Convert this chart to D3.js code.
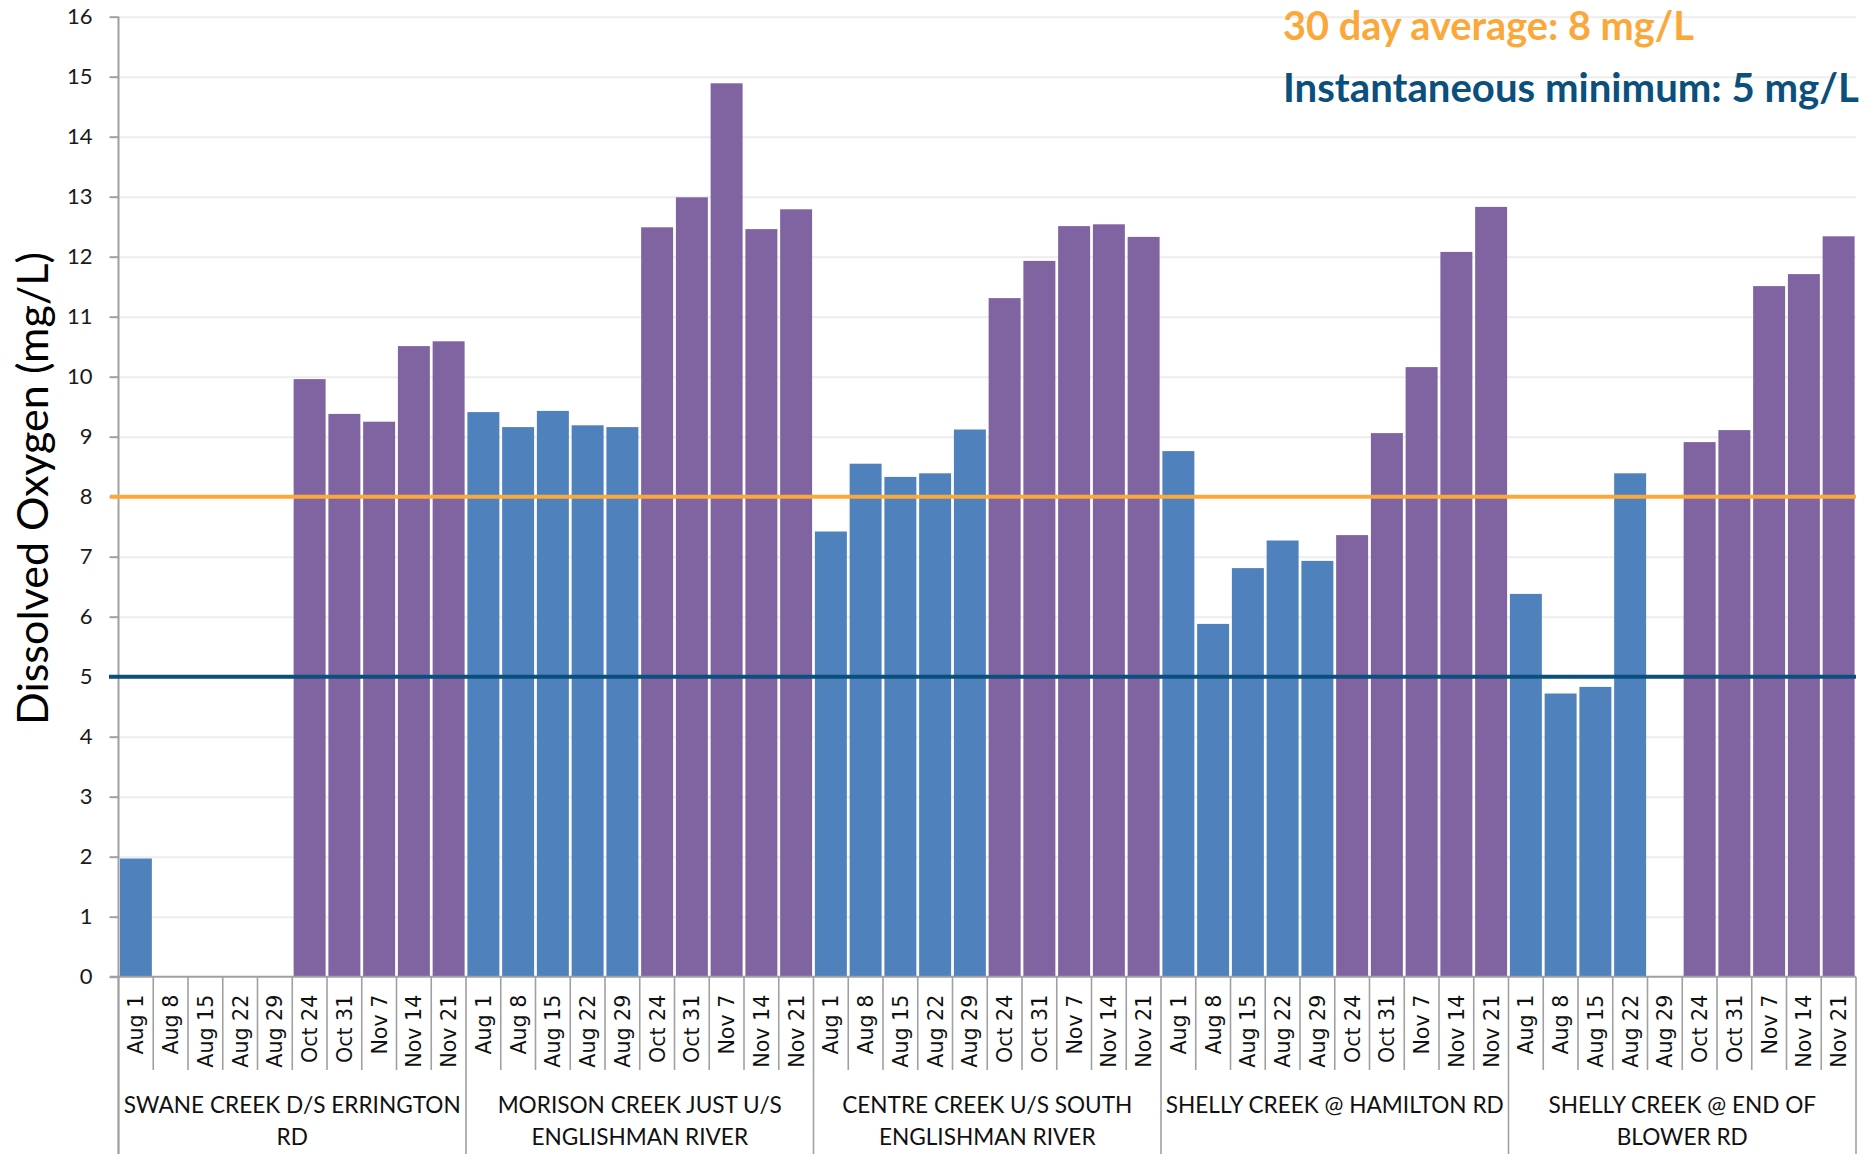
<!DOCTYPE html>
<html>
<head>
<meta charset="utf-8">
<script src="https://cdn.jsdelivr.net/npm/d3@7"></script>
<style>
  html, body { margin: 0; padding: 0; background: #ffffff; }
  svg { display: block; }
</style>
</head>
<body>
<svg id="chart" width="1864" height="1154"></svg>
<script>
// ---------------- DATA ----------------
const sites = [
  "SWANE CREEK D/S ERRINGTON RD",
  "MORISON CREEK JUST U/S ENGLISHMAN RIVER",
  "CENTRE CREEK U/S SOUTH ENGLISHMAN RIVER",
  "SHELLY CREEK @ HAMILTON RD",
  "SHELLY CREEK @ END OF BLOWER RD"
];
const siteLabelLines = [
  ["SWANE CREEK D/S ERRINGTON", "RD"],
  ["MORISON CREEK JUST U/S", "ENGLISHMAN RIVER"],
  ["CENTRE CREEK U/S SOUTH", "ENGLISHMAN RIVER"],
  ["SHELLY CREEK @ HAMILTON RD"],
  ["SHELLY CREEK @ END OF", "BLOWER RD"]
];
const dates = ["Aug 1", "Aug 8", "Aug 15", "Aug 22", "Aug 29", "Oct 24", "Oct 31", "Nov 7", "Nov 14", "Nov 21"];
const swaneValues    = [1.97, null, null, null, null, 9.96, 9.38, 9.25, 10.51, 10.59];
const morisonValues  = [9.41, 9.16, 9.43, 9.19, 9.16, 12.49, 12.99, 14.89, 12.46, 12.79];
const centreValues   = [7.42, 8.55, 8.33, 8.39, 9.12, 11.31, 11.93, 12.51, 12.54, 12.33];
const hamiltonValues = [8.76, 5.88, 6.81, 7.27, 6.93, 7.36, 9.06, 10.16, 12.08, 12.83];
const blowerValues   = [6.38, 4.72, 4.83, 8.39, null, 8.91, 9.11, 11.51, 11.71, 12.34];
const siteValues = [swaneValues, morisonValues, centreValues, hamiltonValues, blowerValues];
const yTicks = [0, 1, 2, 3, 4, 5, 6, 7, 8, 9, 10, 11, 12, 13, 14, 15, 16];
const thirtyDayAverage = 8;
const instantaneousMinimum = 5;
const legendTexts = ["30 day average: 8 mg/L", "Instantaneous minimum: 5 mg/L"];
const yTitle = "Dissolved Oxygen (mg/L)";

// ---------------- LAYOUT ----------------
const W = 1864, H = 1154;
const mLeft = 118.5, mRight = 1856, mTop = 16.7, mBottom = 976.7;
const colors = { summer: "#4F81BD", fall: "#8064A2", avg: "#FBA83B", min: "#0B4F7D", axis: "#A0A0A0", grid: "#EDEDED" };
const font = "Lato, 'Open Sans', sans-serif";

function fit(sel, target) {
  const base = parseFloat(sel.attr("font-size"));
  const w = sel.node().getComputedTextLength();
  const fsz = base * target / w;
  sel.attr("font-size", fsz);
  return fsz;
}

const rows = [];
sites.forEach((s, si) => dates.forEach((d, di) => rows.push({ key: si + "|" + di, site: si, date: d, value: siteValues[si][di] })));

const svg = d3.select("#chart");
svg.append("rect").attr("width", W).attr("height", H).attr("fill", "#fff");

const x = d3.scaleBand().domain(rows.map(r => r.key)).range([mLeft, mRight]).paddingInner(0.08).paddingOuter(0.04);
const y = d3.scaleLinear().domain([0, 16]).range([mBottom, mTop]);

// gridlines
const grid = svg.append("g").attr("transform", `translate(${mLeft},0)`)
  .call(d3.axisLeft(y).tickValues(yTicks.filter(t => t > 0)).tickSize(-(mRight - mLeft)).tickFormat(""));
grid.select(".domain").remove();
grid.selectAll("line").attr("stroke", colors.grid).attr("stroke-width", 2);

// bars
svg.append("g").selectAll("rect")
  .data(rows.filter(r => r.value != null))
  .join("rect")
  .attr("x", r => x(r.key))
  .attr("width", x.bandwidth())
  .attr("y", r => y(r.value))
  .attr("height", r => y(0) - y(r.value))
  .attr("fill", r => r.date.startsWith("Aug") ? colors.summer : colors.fall);

// y axis
const yAxis = svg.append("g").attr("transform", `translate(${mLeft},0)`)
  .call(d3.axisLeft(y).tickValues(yTicks).tickSize(9).tickPadding(17).tickFormat(d3.format("d")));
yAxis.select(".domain").remove();
yAxis.selectAll("line").attr("stroke", colors.axis).attr("stroke-width", 2);
yAxis.selectAll("text").attr("font-family", font).attr("font-size", 22).attr("fill", "#1a1a1a");
svg.append("line").attr("x1", mLeft).attr("x2", mLeft).attr("y1", mTop).attr("y2", H)
  .attr("stroke", colors.axis).attr("stroke-width", 2);

// x axis
const xAxis = svg.append("g").attr("transform", `translate(0,${mBottom})`)
  .call(d3.axisBottom(x).tickSize(0).tickFormat(k => dates[+k.split("|")[1]]));
xAxis.select(".domain").remove();
const xLabels = xAxis.selectAll("text")
  .attr("transform", "rotate(-90)")
  .attr("text-anchor", "end")
  .attr("x", -18).attr("y", 0).attr("dy", "0.36em")
  .attr("font-family", "'DejaVu Sans', Verdana, sans-serif")
  .attr("font-size", 20)
  .attr("fill", "#111");
// size so that "Aug 15" spans ~73px as in the reference
const refLabel = xLabels.filter(function () { return this.textContent === "Aug 15"; }).filter((d, i) => i === 0);
const xfs = fit(refLabel, 73);
xLabels.attr("font-size", xfs);
svg.append("line").attr("x1", 110).attr("x2", mRight).attr("y1", mBottom).attr("y2", mBottom)
  .attr("stroke", colors.axis).attr("stroke-width", 2);

// category separators
const half = x.step() * x.paddingInner() / 2;
const keys = x.domain();
const seps = keys.map((k, i) => ({ i, pos: x(k) - half }));
seps.push({ i: keys.length, pos: x(keys[keys.length - 1]) + x.bandwidth() + half });
svg.append("g").selectAll("line").data(seps).join("line")
  .attr("x1", d => d.pos).attr("x2", d => d.pos)
  .attr("y1", mBottom)
  .attr("y2", d => d.i % dates.length === 0 ? H : 1070)
  .attr("stroke", colors.axis).attr("stroke-width", 1.6);

// site labels
const siteG = svg.append("g");
const gl = [];
siteLabelLines.forEach((lines, si) => {
  const k0 = si + "|0", k1 = si + "|" + (dates.length - 1);
  const cx = (x(k0) + x(k1) + x.bandwidth()) / 2;
  lines.forEach((ln, li) => {
    gl.push(siteG.append("text").attr("x", cx).attr("y", 1113 + li * 32)
      .attr("text-anchor", "middle").attr("font-family", font).attr("font-size", 24)
      .attr("fill", "#111").text(ln));
  });
});
const fsSite = fit(gl[0], 337);
gl.forEach(t => t.attr("font-size", fsSite));

// threshold lines
svg.append("line").attr("x1", 110).attr("x2", mRight).attr("y1", y(thirtyDayAverage)).attr("y2", y(thirtyDayAverage))
  .attr("stroke", colors.avg).attr("stroke-width", 4);
svg.append("line").attr("x1", 109).attr("x2", mRight).attr("y1", y(instantaneousMinimum)).attr("y2", y(instantaneousMinimum))
  .attr("stroke", colors.min).attr("stroke-width", 4);

// legend texts
const l1 = svg.append("text").attr("x", 1283).attr("y", 40).attr("font-family", font).attr("font-weight", "bold")
  .attr("font-size", 36).attr("fill", colors.avg).text(legendTexts[0]);
fit(l1, 411);
const l2 = svg.append("text").attr("x", 1283).attr("y", 102).attr("font-family", font).attr("font-weight", "bold")
  .attr("font-size", 36).attr("fill", colors.min).text(legendTexts[1]);
fit(l2, 576);

// y title
const yt = svg.append("text").attr("transform", `translate(48,488.5) rotate(-90)`)
  .attr("text-anchor", "middle").attr("font-family", font).attr("font-size", 44).attr("fill", "#000").text(yTitle);
fit(yt, 473);
</script>
</body>
</html>
